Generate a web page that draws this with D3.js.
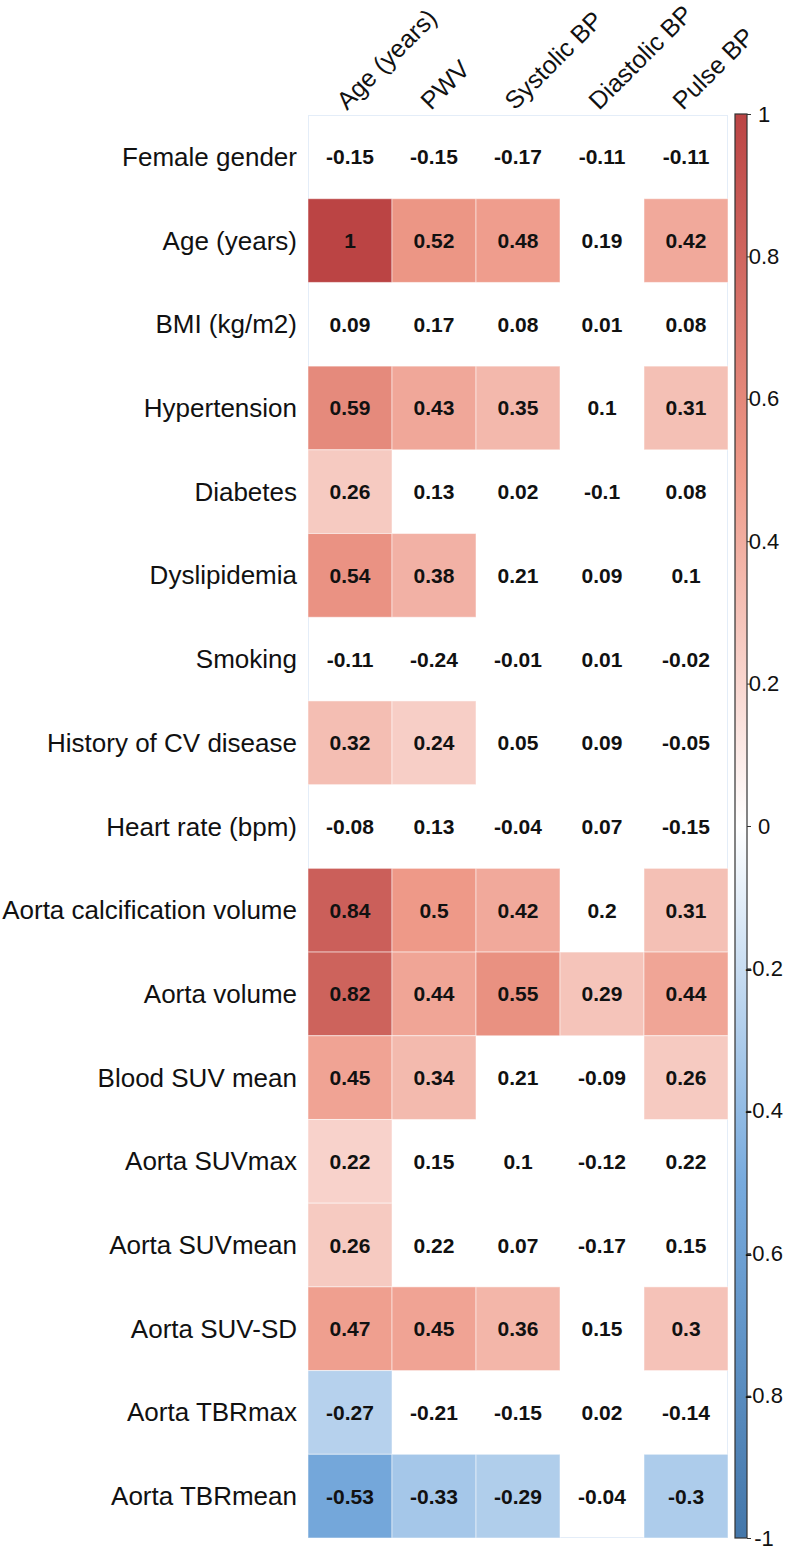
<!DOCTYPE html>
<html>
<head>
<meta charset="utf-8">
<script src="https://cdn.jsdelivr.net/npm/d3@7"></script>
<style>
  html, body { margin: 0; padding: 0; background: #ffffff; }
  svg { display: block; }
  text { font-family: "Liberation Sans", Arial, sans-serif; }
</style>
</head>
<body>
<div id="chart"></div>
<script>
const rowLabels = [
  "Female gender", "Age (years)", "BMI (kg/m2)", "Hypertension", "Diabetes",
  "Dyslipidemia", "Smoking", "History of CV disease", "Heart rate (bpm)",
  "Aorta calcification volume", "Aorta volume", "Blood SUV mean",
  "Aorta SUVmax", "Aorta SUVmean", "Aorta SUV-SD", "Aorta TBRmax", "Aorta TBRmean"
];
const colLabels = ["Age (years)", "PWV", "Systolic BP", "Diastolic BP", "Pulse BP"];

const corrValues = [
  [-0.15, -0.15, -0.17, -0.11, -0.11],
  [1, 0.52, 0.48, 0.19, 0.42],
  [0.09, 0.17, 0.08, 0.01, 0.08],
  [0.59, 0.43, 0.35, 0.1, 0.31],
  [0.26, 0.13, 0.02, -0.1, 0.08],
  [0.54, 0.38, 0.21, 0.09, 0.1],
  [-0.11, -0.24, -0.01, 0.01, -0.02],
  [0.32, 0.24, 0.05, 0.09, -0.05],
  [-0.08, 0.13, -0.04, 0.07, -0.15],
  [0.84, 0.5, 0.42, 0.2, 0.31],
  [0.82, 0.44, 0.55, 0.29, 0.44],
  [0.45, 0.34, 0.21, -0.09, 0.26],
  [0.22, 0.15, 0.1, -0.12, 0.22],
  [0.26, 0.22, 0.07, -0.17, 0.15],
  [0.47, 0.45, 0.36, 0.15, 0.3],
  [-0.27, -0.21, -0.15, 0.02, -0.14],
  [-0.53, -0.33, -0.29, -0.04, -0.3]
];

// 1 = significant (cell filled with colour), 0 = left blank
const significant = [
  [0, 0, 0, 0, 0],
  [1, 1, 1, 0, 1],
  [0, 0, 0, 0, 0],
  [1, 1, 1, 0, 1],
  [1, 0, 0, 0, 0],
  [1, 1, 0, 0, 0],
  [0, 0, 0, 0, 0],
  [1, 1, 0, 0, 0],
  [0, 0, 0, 0, 0],
  [1, 1, 1, 0, 1],
  [1, 1, 1, 1, 1],
  [1, 1, 0, 0, 1],
  [1, 0, 0, 0, 0],
  [1, 0, 0, 0, 0],
  [1, 1, 1, 0, 1],
  [1, 0, 0, 0, 0],
  [1, 1, 1, 0, 1]
];

const colorDomain = [-1, -0.5, 0, 0.5, 1];
const colorRange = ["#4477AA", "#77AADD", "#FFFFFF", "#EE9988", "#BB4444"];
const legendTicks = [1, 0.8, 0.6, 0.4, 0.2, 0, -0.2, -0.4, -0.6, -0.8, -1];

const W = 786, H = 1551;
const gridLeft = 308, gridRight = 728, gridTop = 115, gridBottom = 1538;

const svg = d3.select("#chart").append("svg")
  .attr("width", W).attr("height", H);

const x = d3.scaleBand().domain(colLabels).range([gridLeft, gridRight]);
const y = d3.scaleBand().domain(rowLabels).range([gridTop, gridBottom]);
const color = d3.scaleLinear().domain(colorDomain).range(colorRange);

const cells = [];
rowLabels.forEach((r, i) => colLabels.forEach((c, j) => {
  cells.push({ r, c, v: corrValues[i][j], sig: significant[i][j] });
}));

// faint grid outline
svg.append("rect")
  .attr("x", gridLeft + 0.5).attr("y", gridTop + 0.5)
  .attr("width", gridRight - gridLeft - 1).attr("height", gridBottom - gridTop - 1)
  .attr("fill", "none").attr("stroke", "#e4edf8").attr("stroke-width", 1);

svg.append("g").selectAll("rect")
  .data(cells.filter(d => d.sig))
  .join("rect")
  .attr("x", d => x(d.c))
  .attr("y", d => y(d.r))
  .attr("width", x.bandwidth())
  .attr("height", y.bandwidth())
  .attr("fill", d => color(d.v))
  .attr("stroke", "#ffffff")
  .attr("stroke-opacity", 0.5)
  .attr("stroke-width", 1);

svg.append("g").selectAll("text")
  .data(cells)
  .join("text")
  .attr("x", d => x(d.c) + x.bandwidth() / 2)
  .attr("y", d => y(d.r) + y.bandwidth() / 2)
  .attr("text-anchor", "middle")
  .attr("dominant-baseline", "central")
  .attr("font-size", 21)
  .attr("font-weight", "bold")
  .attr("fill", "#111")
  .text(d => String(d.v));

// row labels
svg.append("g").selectAll("text")
  .data(rowLabels)
  .join("text")
  .attr("x", 297)
  .attr("y", d => y(d) + y.bandwidth() / 2)
  .attr("text-anchor", "end")
  .attr("dominant-baseline", "central")
  .attr("font-size", 26)
  .attr("fill", "#111")
  .text(d => d);

// column labels
svg.append("g").selectAll("text")
  .data(colLabels)
  .join("text")
  .attr("transform", d => `translate(${x(d) + x.bandwidth() / 2 - 3},${gridTop - 4}) rotate(-45)`)
  .attr("text-anchor", "start")
  .attr("font-size", 25)
  .attr("fill", "#111")
  .text(d => d);

// colour bar
const barX = 735, barW = 12;
const ly = d3.scaleLinear().domain([1, -1]).range([gridTop - 1, gridBottom]);
const defs = svg.append("defs");
const grad = defs.append("linearGradient").attr("id", "cbar")
  .attr("x1", 0).attr("y1", 0).attr("x2", 0).attr("y2", 1);
colorDomain.slice().reverse().forEach((v) => {
  grad.append("stop")
    .attr("offset", (ly(v) - ly(1)) / (ly(-1) - ly(1)))
    .attr("stop-color", color(v));
});
svg.append("rect")
  .attr("x", barX).attr("y", ly(1))
  .attr("width", barW).attr("height", ly(-1) - ly(1))
  .attr("fill", "url(#cbar)")
  .attr("stroke", "#333").attr("stroke-width", 1.2);

const axis = d3.axisRight(ly)
  .tickValues(legendTicks)
  .tickSize(4)
  .tickFormat(v => String(+v.toFixed(1)));
const ag = svg.append("g").attr("transform", `translate(${barX + barW},0)`).call(axis);
ag.select(".domain").remove();
ag.selectAll(".tick line").attr("stroke", "#333");
ag.selectAll(".tick text")
  .attr("x", 17)
  .attr("text-anchor", "middle")
  .attr("font-size", 22)
  .attr("font-family", "Liberation Sans, Arial, sans-serif")
  .attr("fill", "#111");
</script>
</body>
</html>
